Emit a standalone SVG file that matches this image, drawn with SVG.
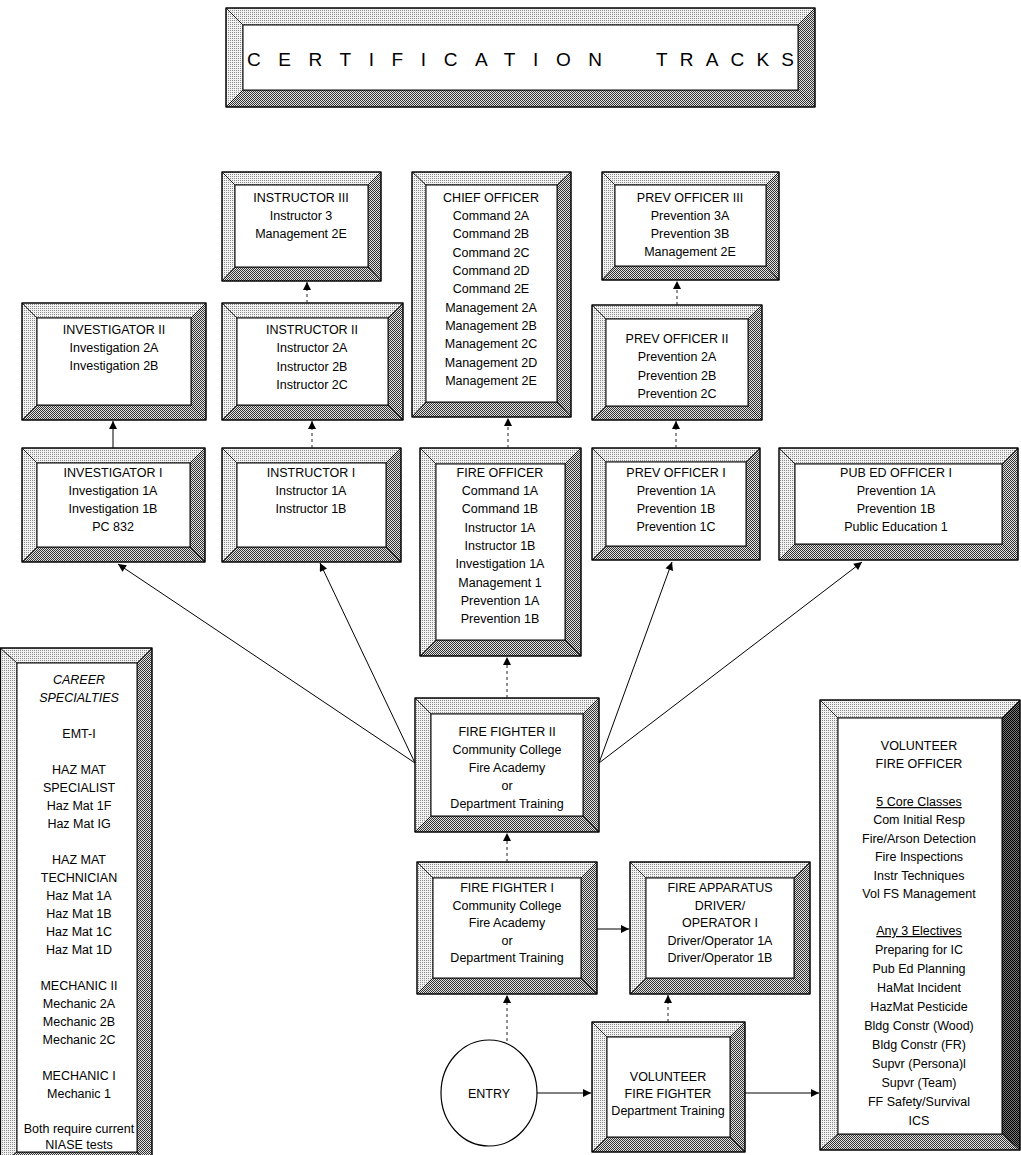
<svg xmlns="http://www.w3.org/2000/svg" width="1021" height="1155" viewBox="0 0 1021 1155">
<defs>
<pattern id="pl" width="2" height="2" patternUnits="userSpaceOnUse"><rect width="2" height="2" fill="#f2f2f2"/><rect width="1" height="1" fill="#8a8a8a"/></pattern>
<pattern id="pd" width="2" height="2" patternUnits="userSpaceOnUse"><rect width="2" height="2" fill="#e2e2e2"/><rect width="1" height="1" fill="#333"/><rect x="1" y="1" width="1" height="1" fill="#333"/></pattern>
<pattern id="px" width="2" height="2" patternUnits="userSpaceOnUse"><rect width="2" height="2" fill="#777"/><rect width="1" height="1" fill="#000"/><rect x="1" y="1" width="1" height="1" fill="#000"/></pattern>
<marker id="ah" viewBox="0 0 10 10" refX="10" refY="5" markerWidth="9" markerHeight="8" markerUnits="userSpaceOnUse" orient="auto"><path d="M0,0 L10,5 L0,10 Z" fill="#000"/></marker>
<style>
.t{font-family:"Liberation Sans",Arial,sans-serif;font-size:12.5px;text-anchor:middle;fill:#000}
.h{font-family:"Liberation Sans",Arial,sans-serif;font-size:19px;fill:#000}
.lt{fill:url(#pl);stroke:#000;stroke-width:0.7}
.dk{fill:url(#pd);stroke:#000;stroke-width:0.7}
.dx{fill:url(#px);stroke:#000;stroke-width:0.7}
.in{fill:#fff;stroke:#000;stroke-width:1}
.ol{fill:none;stroke:#000;stroke-width:1.2}
.c{fill:none;stroke:#000;stroke-width:1}
.d{fill:none;stroke:#222;stroke-width:1;stroke-dasharray:3 3}
</style>
</defs>
<rect width="1021" height="1155" fill="#fff"/>

<g id="title">
<path class="lt" d="M226,8 H815 L798,25 H243 Z"/>
<path class="lt" d="M226,8 L243,25 V90 L226,107 Z"/>
<path class="dk" d="M815,8 V107 L798,90 V25 Z"/>
<path class="dk" d="M226,107 H815 L798,90 H243 Z"/>
<rect class="in" x="243" y="25" width="555" height="65"/>
<rect class="ol" x="226" y="8" width="589" height="99"/>
<text class="h" x="247" y="66" textLength="355" lengthAdjust="spacing">CERTIFICATION</text>
<text class="h" x="656" y="66" textLength="138" lengthAdjust="spacing">TRACKS</text>
</g>

<g id="instructor3">
<path class="lt" d="M222,172 H381 L368,185 H235 Z"/>
<path class="lt" d="M222,172 L235,185 V267 L222,281 Z"/>
<path class="dk" d="M381,172 V281 L368,267 V185 Z"/>
<path class="dk" d="M222,281 H381 L368,267 H235 Z"/>
<rect class="in" x="235" y="185" width="133" height="82"/>
<rect class="ol" x="222" y="172" width="159" height="109"/>
<text class="t"><tspan x="301" y="202">INSTRUCTOR III</tspan><tspan x="301" y="220">Instructor 3</tspan><tspan x="301" y="238">Management 2E</tspan></text>
</g>

<g id="chief">
<path class="lt" d="M412,172 H571 L557,185 H426 Z"/>
<path class="lt" d="M412,172 L426,185 V402 L412,417 Z"/>
<path class="dk" d="M571,172 V417 L557,402 V185 Z"/>
<path class="dk" d="M412,417 H571 L557,402 H426 Z"/>
<rect class="in" x="426" y="185" width="131" height="217"/>
<rect class="ol" x="412" y="172" width="159" height="245"/>
<text class="t"><tspan x="491" y="202">CHIEF OFFICER</tspan><tspan x="491" y="220">Command 2A</tspan><tspan x="491" y="238">Command 2B</tspan><tspan x="491" y="257">Command 2C</tspan><tspan x="491" y="275">Command 2D</tspan><tspan x="491" y="293">Command 2E</tspan><tspan x="491" y="312">Management 2A</tspan><tspan x="491" y="330">Management 2B</tspan><tspan x="491" y="348">Management 2C</tspan><tspan x="491" y="367">Management 2D</tspan><tspan x="491" y="385">Management 2E</tspan></text>
</g>

<g id="prev3">
<path class="lt" d="M602,172 H779 L766,185 H615 Z"/>
<path class="lt" d="M602,172 L615,185 V266 L602,280 Z"/>
<path class="dk" d="M779,172 V280 L766,266 V185 Z"/>
<path class="dk" d="M602,280 H779 L766,266 H615 Z"/>
<rect class="in" x="615" y="185" width="151" height="81"/>
<rect class="ol" x="602" y="172" width="177" height="108"/>
<text class="t"><tspan x="690" y="202">PREV OFFICER III</tspan><tspan x="690" y="220">Prevention 3A</tspan><tspan x="690" y="238">Prevention 3B</tspan><tspan x="690" y="256">Management 2E</tspan></text>
</g>

<g id="investigator2">
<path class="lt" d="M22,303 H206 L191,318 H37 Z"/>
<path class="lt" d="M22,303 L37,318 V405 L22,420 Z"/>
<path class="dk" d="M206,303 V420 L191,405 V318 Z"/>
<path class="dk" d="M22,420 H206 L191,405 H37 Z"/>
<rect class="in" x="37" y="318" width="154" height="87"/>
<rect class="ol" x="22" y="303" width="184" height="117"/>
<text class="t"><tspan x="114" y="334">INVESTIGATOR II</tspan><tspan x="114" y="352">Investigation 2A</tspan><tspan x="114" y="370">Investigation 2B</tspan></text>
</g>

<g id="instructor2">
<path class="lt" d="M222,303 H403 L388,318 H237 Z"/>
<path class="lt" d="M222,303 L237,318 V405 L222,420 Z"/>
<path class="dk" d="M403,303 V420 L388,405 V318 Z"/>
<path class="dk" d="M222,420 H403 L388,405 H237 Z"/>
<rect class="in" x="237" y="318" width="151" height="87"/>
<rect class="ol" x="222" y="303" width="181" height="117"/>
<text class="t"><tspan x="312" y="334">INSTRUCTOR II</tspan><tspan x="312" y="352">Instructor 2A</tspan><tspan x="312" y="371">Instructor 2B</tspan><tspan x="312" y="389">Instructor 2C</tspan></text>
</g>

<g id="prev2">
<path class="lt" d="M592,305 H762 L748,319 H606 Z"/>
<path class="lt" d="M592,305 L606,319 V406 L592,420 Z"/>
<path class="dk" d="M762,305 V420 L748,406 V319 Z"/>
<path class="dk" d="M592,420 H762 L748,406 H606 Z"/>
<rect class="in" x="606" y="319" width="142" height="87"/>
<rect class="ol" x="592" y="305" width="170" height="115"/>
<text class="t"><tspan x="677" y="343">PREV OFFICER II</tspan><tspan x="677" y="361">Prevention 2A</tspan><tspan x="677" y="380">Prevention 2B</tspan><tspan x="677" y="398">Prevention 2C</tspan></text>
</g>

<g id="investigator1">
<path class="lt" d="M22,448 H205 L190,463 H37 Z"/>
<path class="lt" d="M22,448 L37,463 V547 L22,562 Z"/>
<path class="dk" d="M205,448 V562 L190,547 V463 Z"/>
<path class="dk" d="M22,562 H205 L190,547 H37 Z"/>
<rect class="in" x="37" y="463" width="153" height="84"/>
<rect class="ol" x="22" y="448" width="183" height="114"/>
<text class="t"><tspan x="113" y="477">INVESTIGATOR I</tspan><tspan x="113" y="495">Investigation 1A</tspan><tspan x="113" y="513">Investigation 1B</tspan><tspan x="113" y="531">PC 832</tspan></text>
</g>

<g id="instructor1">
<path class="lt" d="M222,448 H401 L386,463 H237 Z"/>
<path class="lt" d="M222,448 L237,463 V547 L222,562 Z"/>
<path class="dk" d="M401,448 V562 L386,547 V463 Z"/>
<path class="dk" d="M222,562 H401 L386,547 H237 Z"/>
<rect class="in" x="237" y="463" width="149" height="84"/>
<rect class="ol" x="222" y="448" width="179" height="114"/>
<text class="t"><tspan x="311" y="477">INSTRUCTOR I</tspan><tspan x="311" y="495">Instructor 1A</tspan><tspan x="311" y="513">Instructor 1B</tspan></text>
</g>

<g id="fireofficer">
<path class="lt" d="M420,448 H581 L565,464 H436 Z"/>
<path class="lt" d="M420,448 L436,464 V640 L420,656 Z"/>
<path class="dk" d="M581,448 V656 L565,640 V464 Z"/>
<path class="dk" d="M420,656 H581 L565,640 H436 Z"/>
<rect class="in" x="436" y="464" width="129" height="176"/>
<rect class="ol" x="420" y="448" width="161" height="208"/>
<text class="t"><tspan x="500" y="477">FIRE OFFICER</tspan><tspan x="500" y="495">Command 1A</tspan><tspan x="500" y="513">Command 1B</tspan><tspan x="500" y="532">Instructor 1A</tspan><tspan x="500" y="550">Instructor 1B</tspan><tspan x="500" y="568">Investigation 1A</tspan><tspan x="500" y="587">Management 1</tspan><tspan x="500" y="605">Prevention 1A</tspan><tspan x="500" y="623">Prevention 1B</tspan></text>
</g>

<g id="prev1">
<path class="lt" d="M592,448 H760 L746,462 H606 Z"/>
<path class="lt" d="M592,448 L606,462 V546 L592,560 Z"/>
<path class="dk" d="M760,448 V560 L746,546 V462 Z"/>
<path class="dk" d="M592,560 H760 L746,546 H606 Z"/>
<rect class="in" x="606" y="462" width="140" height="84"/>
<rect class="ol" x="592" y="448" width="168" height="112"/>
<text class="t"><tspan x="676" y="477">PREV OFFICER I</tspan><tspan x="676" y="495">Prevention 1A</tspan><tspan x="676" y="513">Prevention 1B</tspan><tspan x="676" y="531">Prevention 1C</tspan></text>
</g>

<g id="pubed">
<path class="lt" d="M779,448 H1018 L1002,464 H795 Z"/>
<path class="lt" d="M779,448 L795,464 V544 L779,560 Z"/>
<path class="dk" d="M1018,448 V560 L1002,544 V464 Z"/>
<path class="dk" d="M779,560 H1018 L1002,544 H795 Z"/>
<rect class="in" x="795" y="464" width="207" height="80"/>
<rect class="ol" x="779" y="448" width="239" height="112"/>
<text class="t"><tspan x="896" y="477">PUB ED OFFICER I</tspan><tspan x="896" y="495">Prevention 1A</tspan><tspan x="896" y="513">Prevention 1B</tspan><tspan x="896" y="531">Public Education 1</tspan></text>
</g>

<g id="career">
<path class="lt" d="M0,648 H152 L137,663 H17 Z"/>
<path class="lt" d="M0,648 L17,663 V1152 L0,1165 Z"/>
<path class="dk" d="M152,648 V1165 L137,1152 V663 Z"/>
<path class="dk" d="M0,1165 H152 L137,1152 H17 Z"/>
<rect class="in" x="17" y="663" width="120" height="489"/>
<rect class="ol" x="0.5" y="648" width="151.5" height="517"/>
<text class="t" font-size="12"><tspan x="79" y="684" font-style="italic">CAREER</tspan><tspan x="79" y="702" font-style="italic">SPECIALTIES</tspan><tspan x="79" y="738">EMT-I</tspan><tspan x="79" y="774">HAZ MAT</tspan><tspan x="79" y="792">SPECIALIST</tspan><tspan x="79" y="810">Haz Mat 1F</tspan><tspan x="79" y="828">Haz Mat IG</tspan><tspan x="79" y="864">HAZ MAT</tspan><tspan x="79" y="882">TECHNICIAN</tspan><tspan x="79" y="900">Haz Mat 1A</tspan><tspan x="79" y="918">Haz Mat 1B</tspan><tspan x="79" y="936">Haz Mat 1C</tspan><tspan x="79" y="954">Haz Mat 1D</tspan><tspan x="79" y="990">MECHANIC II</tspan><tspan x="79" y="1008">Mechanic 2A</tspan><tspan x="79" y="1026">Mechanic 2B</tspan><tspan x="79" y="1044">Mechanic 2C</tspan><tspan x="79" y="1080">MECHANIC I</tspan><tspan x="79" y="1098">Mechanic 1</tspan><tspan x="79" y="1133">Both require current</tspan><tspan x="79" y="1149">NIASE tests</tspan></text>
</g>

<g id="firefighter2">
<path class="lt" d="M415,698 H599 L583,714 H431 Z"/>
<path class="lt" d="M415,698 L431,714 V816 L415,832 Z"/>
<path class="dk" d="M599,698 V832 L583,816 V714 Z"/>
<path class="dk" d="M415,832 H599 L583,816 H431 Z"/>
<rect class="in" x="431" y="714" width="152" height="102"/>
<rect class="ol" x="415" y="698" width="184" height="134"/>
<text class="t"><tspan x="507" y="736">FIRE FIGHTER II</tspan><tspan x="507" y="754">Community College</tspan><tspan x="507" y="772">Fire Academy</tspan><tspan x="507" y="790">or</tspan><tspan x="507" y="808">Department Training</tspan></text>
</g>

<g id="firefighter1">
<path class="lt" d="M417,862 H597 L581,878 H433 Z"/>
<path class="lt" d="M417,862 L433,878 V978 L417,994 Z"/>
<path class="dk" d="M597,862 V994 L581,978 V878 Z"/>
<path class="dk" d="M417,994 H597 L581,978 H433 Z"/>
<rect class="in" x="433" y="878" width="148" height="100"/>
<rect class="ol" x="417" y="862" width="180" height="132"/>
<text class="t"><tspan x="507" y="892">FIRE FIGHTER I</tspan><tspan x="507" y="910">Community College</tspan><tspan x="507" y="927">Fire Academy</tspan><tspan x="507" y="945">or</tspan><tspan x="507" y="962">Department Training</tspan></text>
</g>

<g id="apparatus">
<path class="lt" d="M630,862 H810 L794,878 H646 Z"/>
<path class="lt" d="M630,862 L646,878 V978 L630,994 Z"/>
<path class="dk" d="M810,862 V994 L794,978 V878 Z"/>
<path class="dk" d="M630,994 H810 L794,978 H646 Z"/>
<rect class="in" x="646" y="878" width="148" height="100"/>
<rect class="ol" x="630" y="862" width="180" height="132"/>
<text class="t"><tspan x="720" y="892">FIRE APPARATUS</tspan><tspan x="720" y="910">DRIVER/</tspan><tspan x="720" y="927">OPERATOR I</tspan><tspan x="720" y="945">Driver/Operator 1A</tspan><tspan x="720" y="962">Driver/Operator 1B</tspan></text>
</g>

<g id="entry">
<ellipse cx="489" cy="1093" rx="48" ry="53" fill="#fff" stroke="#000" stroke-width="1.2"/>
<text class="t" x="489" y="1098">ENTRY</text>
</g>

<g id="volff">
<path class="lt" d="M592,1022 H745 L730,1037 H607 Z"/>
<path class="lt" d="M592,1022 L607,1037 V1137 L592,1152 Z"/>
<path class="dk" d="M745,1022 V1152 L730,1137 V1037 Z"/>
<path class="dk" d="M592,1152 H745 L730,1137 H607 Z"/>
<rect class="in" x="607" y="1037" width="123" height="100"/>
<rect class="ol" x="592" y="1022" width="153" height="130"/>
<text class="t"><tspan x="668" y="1081">VOLUNTEER</tspan><tspan x="668" y="1098">FIRE FIGHTER</tspan><tspan x="668" y="1115">Department Training</tspan></text>
</g>

<g id="volfo">
<path class="lt" d="M820,700 H1020 L1002,718 H838 Z"/>
<path class="lt" d="M820,700 L838,718 V1134 L820,1150 Z"/>
<path class="dx" d="M1020,700 V1150 L1002,1134 V718 Z"/>
<path class="dk" d="M820,1150 H1020 L1002,1134 H838 Z"/>
<rect class="in" x="838" y="718" width="164" height="416"/>
<rect class="ol" x="820" y="700" width="200" height="450"/>
<text class="t"><tspan x="919" y="750">VOLUNTEER</tspan><tspan x="919" y="768">FIRE OFFICER</tspan><tspan x="919" y="806" text-decoration="underline">5 Core Classes</tspan><tspan x="919" y="824">Com Initial Resp</tspan><tspan x="919" y="843">Fire/Arson Detection</tspan><tspan x="919" y="861">Fire Inspections</tspan><tspan x="919" y="880">Instr Techniques</tspan><tspan x="919" y="898">Vol FS Management</tspan><tspan x="919" y="935" text-decoration="underline">Any 3 Electives</tspan><tspan x="919" y="954">Preparing for IC</tspan><tspan x="919" y="973">Pub Ed Planning</tspan><tspan x="919" y="992">HaMat Incident</tspan><tspan x="919" y="1011">HazMat Pesticide</tspan><tspan x="919" y="1030">Bldg Constr (Wood)</tspan><tspan x="919" y="1049">Bldg Constr (FR)</tspan><tspan x="919" y="1068">Supvr (Persona)l</tspan><tspan x="919" y="1087">Supvr (Team)</tspan><tspan x="919" y="1106">FF Safety/Survival</tspan><tspan x="919" y="1125">ICS</tspan></text>
</g>

<g id="connectors">
<path class="c" d="M113,448 V421" marker-end="url(#ah)"/>
<path class="d" d="M312,448 V421" marker-end="url(#ah)"/>
<path class="d" d="M508,448 V418" marker-end="url(#ah)"/>
<path class="d" d="M676,448 V421" marker-end="url(#ah)"/>
<path class="d" d="M307,303 V282" marker-end="url(#ah)"/>
<path class="d" d="M677,305 V281" marker-end="url(#ah)"/>
<path class="d" d="M507,698 V657" marker-end="url(#ah)"/>
<path class="d" d="M507,862 V833" marker-end="url(#ah)"/>
<path class="d" d="M507,1041 V995" marker-end="url(#ah)"/>
<path class="d" d="M668,1022 V995" marker-end="url(#ah)"/>
<path class="c" d="M597,929 H629" marker-end="url(#ah)"/>
<path class="c" d="M537,1093 H591" marker-end="url(#ah)"/>
<path class="c" d="M745,1093 H819" marker-end="url(#ah)"/>
<path class="c" d="M415,763 L118,564" marker-end="url(#ah)"/>
<path class="c" d="M415,763 L320,563" marker-end="url(#ah)"/>
<path class="c" d="M599,763 L672,562" marker-end="url(#ah)"/>
<path class="c" d="M599,763 L862,562" marker-end="url(#ah)"/>
</g>
</svg>
